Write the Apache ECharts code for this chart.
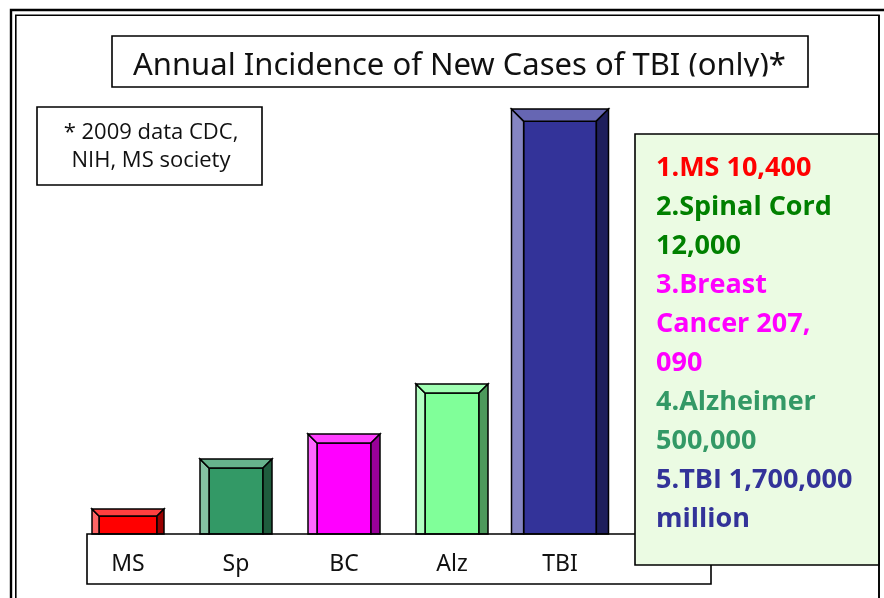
<!DOCTYPE html>
<html>
<head>
<meta charset="utf-8">
<script src="https://cdn.jsdelivr.net/npm/echarts@6/dist/echarts.min.js"></script>
<style>
html,body{margin:0;padding:0;background:#fff;}
#c{width:884px;height:598px;}
</style>
</head>
<body>
<div id="c"></div>
<script>
// ---- data ----
var categories = ['MS', 'Sp', 'BC', 'Alz', 'TBI'];
var barValues = [0.1, 0.3, 0.4, 0.6, 1.7];
var titleText = 'Annual Incidence of New Cases of TBI (only)*';
var noteLines = ['* 2009 data CDC,', 'NIH, MS society'];
var panelLines = [
  ['1.MS 10,400', 'ms'],
  ['2.Spinal Cord', 'sp'],
  ['12,000', 'sp'],
  ['3.Breast', 'bc'],
  ['Cancer 207,', 'bc'],
  ['090', 'bc'],
  ['4.Alzheimer', 'alz'],
  ['500,000', 'alz'],
  ['5.TBI 1,700,000', 'tbi'],
  ['million', 'tbi']
];

// ---- styles ----
var barColors = ['#FF0000', '#339966', '#FF00FF', '#80FF99', '#333399'];
var barWidths = [72, 72, 72, 72, 97];
var textColors = {ms: '#FF0000', sp: '#008000', bc: '#FF00FF', alz: '#339966', tbi: '#333399'};

function mix(hex, target, t) {
  var r = parseInt(hex.substr(1, 2), 16), g = parseInt(hex.substr(3, 2), 16), b = parseInt(hex.substr(5, 2), 16);
  r = Math.round(r + (target - r) * t); g = Math.round(g + (target - g) * t); b = Math.round(b + (target - b) * t);
  return 'rgb(' + r + ',' + g + ',' + b + ')';
}

var chart = echarts.init(document.getElementById('c'), null, {renderer: 'canvas'});

var panelFont = {family: 'Open Sans', size: 27};
var richStyles = {};
Object.keys(textColors).forEach(function (k) {
  richStyles[k] = {
    fontFamily: panelFont.family, fontWeight: 'bold', fontSize: panelFont.size,
    fill: textColors[k], color: textColors[k], lineHeight: 39
  };
});
var panelText = panelLines.map(function (l) { return '{' + l[1] + '|' + l[0] + '}'; }).join('\n');

var option = {
  backgroundColor: '#ffffff',
  animation: false,
  grid: {left: 74, width: 540, top: 34, bottom: 64},
  xAxis: {
    type: 'category',
    data: categories,
    axisLine: {show: false},
    axisTick: {show: false},
    axisLabel: {
      margin: 19, fontFamily: 'Noto Sans', fontSize: 23, color: '#111'
    }
  },
  yAxis: {
    type: 'value', min: 0, max: 2, show: false,
    splitLine: {show: false}
  },
  series: [{
    type: 'custom',
    data: barValues.map(function (v, i) { return [i, v]; }),
    renderItem: function (params, api) {
      var i = params.dataIndex;
      var base = api.coord([api.value(0), 0]);
      var top = api.coord([api.value(0), api.value(1)]);
      var w = barWidths[i];
      var x0 = base[0] - w / 2, x1 = base[0] + w / 2;
      var y0 = top[1], yb = base[1];
      var b = Math.min(w / 8, (yb - y0) * 0.28);
      var c = barColors[i];
      var stroke = {stroke: '#000', lineWidth: 1.5, lineJoin: 'miter'};
      function poly(points, fill) {
        return {type: 'polygon', shape: {points: points},
          style: Object.assign({fill: fill}, stroke)};
      }
      return {
        type: 'group',
        children: [
          poly([[x0 + b, y0 + b], [x1 - b, y0 + b], [x1 - b, yb], [x0 + b, yb]], c),
          poly([[x0, y0], [x0 + b, y0 + b], [x0 + b, yb], [x0, yb]], mix(c, 255, 0.4)),
          poly([[x0, y0], [x1, y0], [x1 - b, y0 + b], [x0 + b, y0 + b]], mix(c, 255, 0.25)),
          poly([[x1, y0], [x1, yb], [x1 - b, yb], [x1 - b, y0 + b]], mix(c, 0, 0.4))
        ]
      };
    }
  }],
  graphic: [
    // outer double frame
    {type: 'rect', z: 1, shape: {x: 11, y: 10, width: 900, height: 700},
      style: {fill: 'none', stroke: '#000', lineWidth: 2.4}},
    {type: 'rect', z: 1, shape: {x: 15.8, y: 15.2, width: 863.2, height: 700},
      style: {fill: 'none', stroke: '#000', lineWidth: 1.6}},
    // title box (text clipped at its baseline, as in the reference)
    {type: 'text', z: 5, left: 133, top: 51,
      style: {text: titleText, fontFamily: 'Noto Sans', fontSize: 31, fill: '#111'}},
    {type: 'rect', z: 6, shape: {x: 120, y: 76.5, width: 680, height: 10},
      style: {fill: '#fff'}},
    {type: 'rect', z: 7, shape: {x: 112, y: 36, width: 696, height: 51},
      style: {fill: 'none', stroke: '#000', lineWidth: 1.6}},
    // note box
    {type: 'rect', z: 5, shape: {x: 37, y: 107, width: 225, height: 78},
      style: {fill: '#fff', stroke: '#000', lineWidth: 1.6}},
    {type: 'text', z: 6, x: 151, y: 133,
      style: {text: noteLines[0], fontFamily: 'Open Sans', fontSize: 22, fill: '#111',
        textAlign: 'center', textVerticalAlign: 'middle'}},
    {type: 'text', z: 6, x: 151, y: 161,
      style: {text: noteLines[1], fontFamily: 'Open Sans', fontSize: 22, fill: '#111',
        textAlign: 'center', textVerticalAlign: 'middle'}},
    // category box
    {type: 'rect', z: 5, shape: {x: 87, y: 534, width: 624, height: 50},
      style: {fill: 'none', stroke: '#000', lineWidth: 1.6}},
    // green panel
    {type: 'rect', z: 20, shape: {x: 635, y: 134, width: 244, height: 431},
      style: {fill: '#EBFBE3', stroke: '#000', lineWidth: 1.6}},
    {type: 'text', z: 21, x: 656, y: 148.5,
      style: {text: panelText, rich: richStyles, fontFamily: panelFont.family, fontWeight: 'bold',
        fontSize: panelFont.size, lineHeight: 39, textVerticalAlign: 'top'}},
    {type: 'line', z: 22, shape: {x1: 879, y1: 15, x2: 879, y2: 600},
      style: {stroke: '#000', lineWidth: 1.6}}
  ]
};
chart.setOption(option);
</script>
</body>
</html>
